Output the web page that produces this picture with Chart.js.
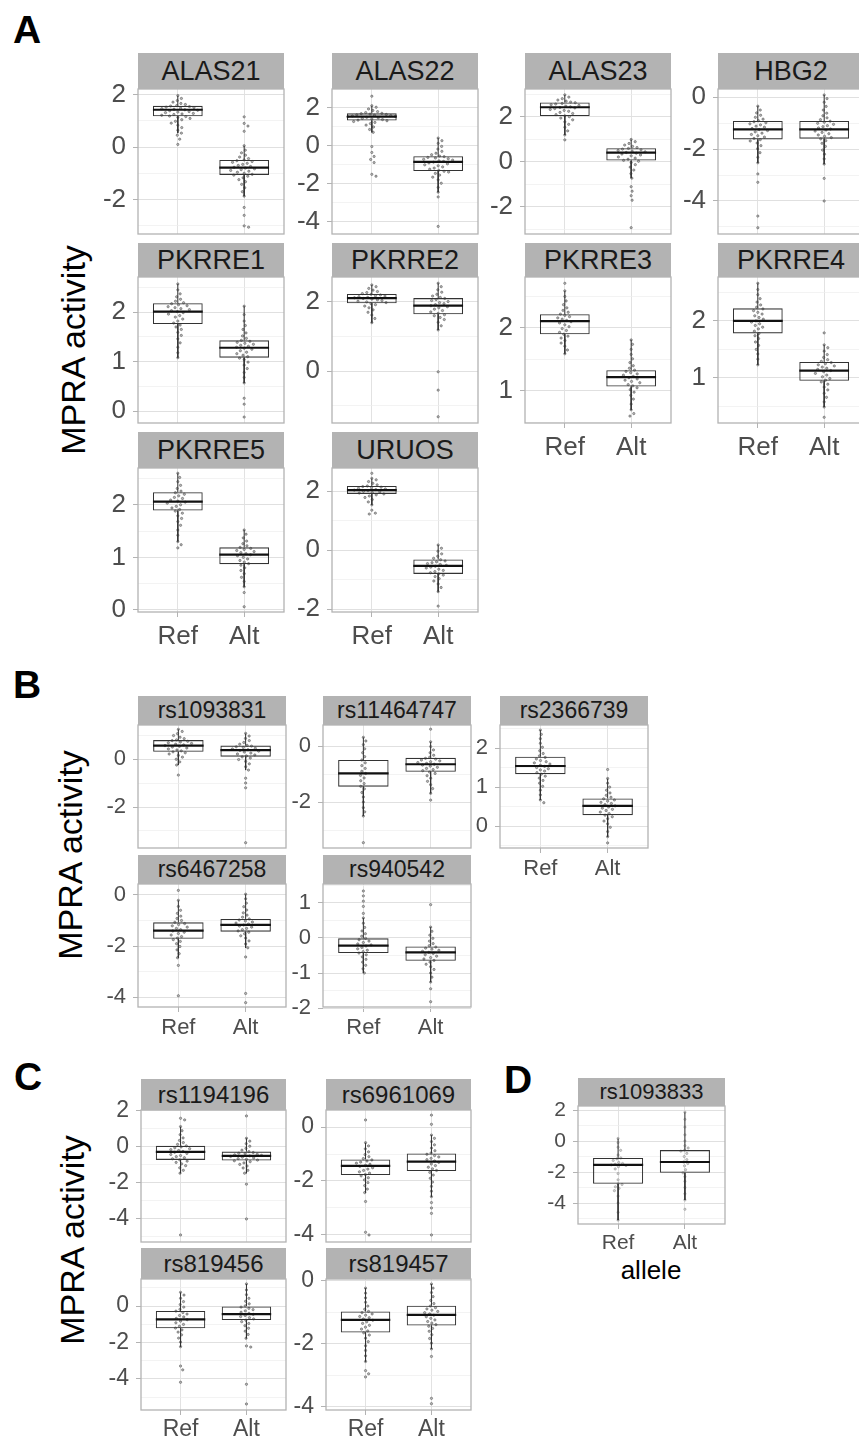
<!DOCTYPE html>
<html><head><meta charset="utf-8">
<script src="https://cdn.jsdelivr.net/npm/chart.js@4.4.1/dist/chart.umd.min.js"></script>
<style>
html,body{margin:0;padding:0;width:859px;height:1439px;overflow:hidden;background:#fff;font-family:"Liberation Sans",Arial,Helvetica,sans-serif;}
.strip{position:absolute;background:#b3b3b3;color:#1a1a1a;display:flex;align-items:center;justify-content:center;white-space:nowrap;}
.letter{position:absolute;font-weight:bold;font-size:39px;line-height:39px;color:#000;}
.ytitle{position:absolute;width:320px;height:40px;line-height:40px;text-align:center;font-size:34px;color:#000;transform:rotate(-90deg);white-space:nowrap;}
.xtitle{position:absolute;width:120px;height:30px;line-height:30px;text-align:center;font-size:26px;color:#000;}
canvas{position:absolute;}
</style></head><body>
<div class="letter" style="left:13px;top:10px">A</div>
<div class="letter" style="left:13px;top:665px">B</div>
<div class="letter" style="left:14px;top:1057px">C</div>
<div class="letter" style="left:504px;top:1060px">D</div>
<div class="ytitle" style="left:-87px;top:330px">MPRA activity</div>
<div class="ytitle" style="left:-90px;top:835px">MPRA activity</div>
<div class="ytitle" style="left:-88px;top:1220px">MPRA activity</div>
<div class="xtitle" style="left:591px;top:1255px">allele</div>
<script>
// ---------------- DATA ----------------
const alleles = ['Ref', 'Alt'];
const facetNames = ['ALAS21','ALAS22','ALAS23','HBG2','PKRRE1','PKRRE2','PKRRE3','PKRRE4','PKRRE5','URUOS',
  'rs1093831','rs11464747','rs2366739','rs6467258','rs940542',
  'rs1194196','rs6961069','rs819456','rs819457','rs1093833'];
const yLimits = [[-3.31,2.21],[-4.65,2.98],[-3.2,3.24],[-5.27,0.31],[-0.24,2.71],[-1.5,2.72],[0.49,2.81],[0.21,2.77],[-0.04,2.70],[-2.1,2.78],
  [-3.71,1.42],[-3.64,0.75],[-0.56,2.59],[-4.39,0.43],[-1.97,1.54],
  [-5.28,2.05],[-4.26,0.63],[-5.7,1.48],[-4.1,0.06],[-5.35,2.26]];
const majorTicks = [[-2,0,2],[-4,-2,0,2],[-2,0,2],[-4,-2,0],[0,1,2],[0,2],[1,2],[1,2],[0,1,2],[-2,0,2],
  [-2,0],[-2,0],[0,1,2],[-4,-2,0],[-2,-1,0,1],
  [-4,-2,0,2],[-4,-2,0],[-4,-2,0],[-4,-2,0],[-4,-2,0,2]];
const minorTicks = [[-3,-1,1],[-3,-1,1],[-3,-1,1,3],[-5,-3,-1],[0.5,1.5,2.5],[-1,1],[0.5,1.5,2.5],[0.5,1.5,2.5],[0.5,1.5,2.5],[-1,1],
  [-3,-1,1],[-3,-1],[-0.5,0.5,1.5,2.5],[-3,-1],[-1.5,-0.5,0.5,1.5],
  [-5,-3,-1,1],[-3,-1],[-5,-3,-1,1],[-3,-1],[-5,-3,-1,1]];
// box stats: [lower whisker, Q1, median, Q3, upper whisker]
const refBox = [[0.53,1.17,1.42,1.57,1.96],[0.70,1.32,1.53,1.70,2.10],[1.20,2.04,2.43,2.64,2.98],[-2.53,-1.63,-1.24,-0.92,-0.35],
  [1.08,1.76,2.01,2.18,2.57],[1.40,1.96,2.11,2.23,2.49],[1.59,1.90,2.11,2.22,2.59],[1.23,1.78,2.00,2.22,2.66],
  [1.30,1.89,2.06,2.24,2.60],[1.53,1.90,2.03,2.17,2.43],
  [-0.25,0.30,0.56,0.79,1.24],[-2.50,-1.45,-0.98,-0.50,0.31],[0.67,1.33,1.54,1.78,2.46],[-2.46,-1.72,-1.40,-1.07,-0.21],[-1.00,-0.43,-0.22,-0.01,0.57],
  [-1.46,-0.72,-0.28,0.06,1.13],[-2.43,-1.78,-1.44,-1.20,-0.58],[-2.23,-1.22,-0.73,-0.27,0.75],[-2.56,-1.64,-1.24,-0.97,-0.23],[-5.10,-2.76,-1.54,-1.09,0.17]];
const altBox = [[-1.87,-1.06,-0.78,-0.49,0.05],[-2.45,-1.34,-0.85,-0.56,0.40],[-0.72,0.06,0.41,0.61,1.00],[-2.58,-1.60,-1.24,-0.92,0.08],
  [0.57,1.08,1.28,1.43,2.12],[1.19,1.64,1.89,2.11,2.54],[0.70,1.07,1.22,1.33,1.81],[0.49,0.95,1.13,1.28,1.58],
  [0.44,0.87,1.05,1.19,1.52],[-1.41,-0.81,-0.54,-0.32,0.17],
  [-0.46,0.10,0.37,0.56,1.07],[-1.69,-0.92,-0.65,-0.42,0.15],[-0.27,0.28,0.52,0.71,1.22],[-2.07,-1.44,-1.17,-0.94,0.03],[-1.26,-0.65,-0.41,-0.24,0.31],
  [-1.46,-0.76,-0.50,-0.26,0.48],[-2.58,-1.63,-1.28,-0.98,-0.30],[-1.77,-0.77,-0.44,0.00,1.21],[-2.16,-1.42,-1.08,-0.79,-0.10],[-3.80,-2.05,-1.35,-0.58,1.86]];

// individual activity values (read approximately from the swarms)
const ALAS21_ref = [0.10,0.30,0.45,0.53,0.64,0.74,0.83,0.91,0.98,1.04,1.09,1.13,1.16,1.18,1.21,1.24,1.26,1.28,1.31,1.33,1.35,1.38,1.40,1.42,1.44,1.46,1.48,1.50,1.52,1.54,1.56,1.58,1.62,1.66,1.71,1.77,1.85,1.96];
const ALAS21_alt = [-3.05,-3.00,-2.60,-2.30,-1.87,-1.70,-1.55,-1.42,-1.32,-1.24,-1.17,-1.11,-1.07,-1.04,-1.00,-0.96,-0.92,-0.89,-0.86,-0.83,-0.80,-0.77,-0.74,-0.70,-0.66,-0.62,-0.58,-0.55,-0.52,-0.49,-0.44,-0.38,-0.31,-0.22,-0.12,0.05,0.60,0.80,0.90,1.15];
const ALAS22_ref = [-1.61,-1.51,-0.89,-0.73,-0.57,-0.36,-0.05,0.70,0.85,0.98,1.08,1.16,1.22,1.27,1.31,1.34,1.37,1.40,1.43,1.46,1.49,1.52,1.54,1.56,1.58,1.60,1.62,1.64,1.66,1.68,1.70,1.74,1.79,1.85,1.93,2.02,2.10,2.60];
const ALAS22_alt = [-4.25,-2.70,-2.45,-2.20,-1.98,-1.80,-1.66,-1.55,-1.46,-1.39,-1.35,-1.30,-1.24,-1.18,-1.12,-1.06,-1.01,-0.96,-0.91,-0.87,-0.83,-0.80,-0.76,-0.72,-0.69,-0.65,-0.62,-0.58,-0.55,-0.48,-0.40,-0.30,-0.18,-0.04,0.12,0.26,0.40];
const ALAS23_ref = [0.98,1.20,1.38,1.54,1.67,1.78,1.87,1.95,2.01,2.05,2.10,2.15,2.20,2.25,2.29,2.33,2.37,2.40,2.42,2.45,2.48,2.51,2.54,2.57,2.60,2.63,2.66,2.70,2.75,2.81,2.88,2.98];
const ALAS23_alt = [-2.92,-1.70,-1.50,-1.30,-1.10,-0.72,-0.52,-0.36,-0.23,-0.12,-0.03,0.03,0.07,0.12,0.17,0.22,0.27,0.31,0.35,0.39,0.42,0.45,0.48,0.51,0.54,0.57,0.60,0.64,0.69,0.75,0.82,0.90,1.00];
const HBG2_ref = [-5.03,-4.58,-3.28,-2.96,-2.53,-2.32,-2.14,-1.99,-1.87,-1.77,-1.69,-1.64,-1.59,-1.54,-1.49,-1.44,-1.39,-1.34,-1.29,-1.25,-1.21,-1.16,-1.12,-1.07,-1.03,-0.99,-0.95,-0.91,-0.85,-0.78,-0.70,-0.61,-0.50,-0.35];
const HBG2_alt = [-4.00,-3.13,-2.58,-2.38,-2.20,-2.04,-1.90,-1.78,-1.68,-1.61,-1.56,-1.51,-1.46,-1.41,-1.36,-1.31,-1.27,-1.23,-1.19,-1.14,-1.10,-1.05,-1.01,-0.97,-0.93,-0.87,-0.80,-0.72,-0.62,-0.50,-0.36,-0.20,-0.06,0.08];
const PKRRE1_ref = [1.08,1.18,1.29,1.38,1.46,1.53,1.59,1.65,1.70,1.74,1.78,1.82,1.86,1.90,1.93,1.96,1.99,2.01,2.03,2.05,2.07,2.09,2.11,2.13,2.15,2.17,2.19,2.22,2.26,2.31,2.37,2.45,2.57];
const PKRRE1_alt = [-0.12,0.14,0.26,0.57,0.68,0.78,0.86,0.93,0.99,1.04,1.07,1.10,1.13,1.16,1.19,1.22,1.25,1.27,1.29,1.31,1.33,1.35,1.37,1.39,1.41,1.43,1.47,1.52,1.58,1.65,1.73,1.82,1.95,2.12];
const PKRRE2_ref = [1.40,1.52,1.62,1.70,1.77,1.83,1.88,1.92,1.95,1.98,2.00,2.02,2.04,2.06,2.08,2.10,2.12,2.13,2.15,2.17,2.18,2.20,2.22,2.24,2.27,2.30,2.34,2.39,2.44,2.49];
const PKRRE2_alt = [-1.32,-0.55,-0.02,1.19,1.31,1.41,1.49,1.55,1.60,1.63,1.67,1.71,1.75,1.79,1.83,1.86,1.89,1.92,1.95,1.98,2.01,2.04,2.07,2.10,2.13,2.17,2.22,2.28,2.35,2.44,2.54];
const PKRRE3_ref = [1.59,1.65,1.71,1.76,1.80,1.84,1.87,1.90,1.93,1.96,1.99,2.02,2.05,2.08,2.10,2.12,2.14,2.16,2.18,2.20,2.22,2.25,2.28,2.32,2.37,2.43,2.50,2.59,2.71];
const PKRRE3_alt = [0.60,0.64,0.70,0.79,0.87,0.93,0.98,1.02,1.05,1.08,1.10,1.13,1.15,1.17,1.19,1.21,1.23,1.25,1.27,1.29,1.31,1.33,1.36,1.40,1.45,1.51,1.58,1.66,1.74,1.81];
const PKRRE4_ref = [1.23,1.33,1.42,1.50,1.57,1.63,1.69,1.74,1.78,1.82,1.86,1.89,1.92,1.95,1.98,2.00,2.03,2.06,2.09,2.12,2.15,2.18,2.21,2.24,2.28,2.33,2.39,2.46,2.55,2.66];
const PKRRE4_alt = [0.31,0.49,0.58,0.66,0.73,0.79,0.84,0.89,0.93,0.96,0.99,1.02,1.05,1.08,1.11,1.13,1.15,1.17,1.19,1.21,1.23,1.25,1.27,1.29,1.32,1.36,1.41,1.47,1.53,1.58,1.79];
const PKRRE5_ref = [1.18,1.24,1.30,1.42,1.52,1.61,1.68,1.74,1.79,1.84,1.88,1.91,1.94,1.97,2.00,2.03,2.05,2.07,2.09,2.12,2.14,2.17,2.20,2.23,2.26,2.31,2.37,2.44,2.52,2.60];
const PKRRE5_alt = [0.06,0.33,0.44,0.54,0.62,0.69,0.75,0.80,0.85,0.88,0.91,0.94,0.97,1.00,1.03,1.05,1.07,1.09,1.11,1.13,1.15,1.17,1.19,1.22,1.26,1.31,1.37,1.44,1.52];
const URUOS_ref = [1.22,1.25,1.35,1.53,1.63,1.71,1.78,1.83,1.87,1.90,1.93,1.95,1.97,1.99,2.01,2.03,2.05,2.07,2.09,2.11,2.13,2.15,2.17,2.21,2.26,2.32,2.38,2.43,2.60];
const URUOS_alt = [-1.90,-1.41,-1.27,-1.15,-1.05,-0.97,-0.90,-0.85,-0.81,-0.77,-0.73,-0.69,-0.65,-0.61,-0.58,-0.55,-0.52,-0.49,-0.46,-0.43,-0.40,-0.37,-0.33,-0.28,-0.21,-0.13,-0.04,0.06,0.17];
const rs1093831_ref = [-0.67,-0.25,-0.12,-0.01,0.08,0.15,0.21,0.26,0.30,0.34,0.38,0.42,0.46,0.50,0.53,0.56,0.59,0.62,0.65,0.68,0.71,0.74,0.77,0.80,0.85,0.91,0.98,1.06,1.15,1.24];
const rs1093831_alt = [-3.49,-1.20,-1.00,-0.80,-0.46,-0.32,-0.20,-0.10,-0.02,0.04,0.09,0.13,0.17,0.21,0.25,0.29,0.33,0.36,0.39,0.42,0.45,0.48,0.51,0.54,0.57,0.62,0.69,0.77,0.86,0.96,1.07];
const rs11464747_ref = [-3.45,-2.50,-2.35,-2.20,-2.00,-1.82,-1.66,-1.53,-1.44,-1.34,-1.24,-1.14,-1.05,-0.98,-0.90,-0.80,-0.70,-0.60,-0.50,-0.38,-0.24,-0.10,0.05,0.18,0.31];
const rs11464747_alt = [-1.93,-1.69,-1.52,-1.38,-1.26,-1.15,-1.06,-0.98,-0.93,-0.88,-0.84,-0.80,-0.76,-0.72,-0.68,-0.65,-0.62,-0.59,-0.56,-0.53,-0.50,-0.47,-0.44,-0.40,-0.33,-0.24,-0.14,-0.02,0.15,0.60];
const rs2366739_ref = [0.60,0.67,0.80,0.92,1.02,1.10,1.17,1.23,1.28,1.33,1.37,1.41,1.44,1.47,1.50,1.53,1.56,1.59,1.62,1.65,1.68,1.72,1.76,1.80,1.86,1.93,2.02,2.12,2.24,2.35,2.46];
const rs2366739_alt = [-0.43,-0.27,-0.14,-0.03,0.06,0.13,0.19,0.24,0.28,0.32,0.36,0.40,0.43,0.46,0.49,0.52,0.55,0.58,0.61,0.64,0.67,0.70,0.74,0.79,0.85,0.92,1.00,1.10,1.22,1.45];
const rs6467258_ref = [-3.95,-2.76,-2.46,-2.30,-2.15,-2.02,-1.91,-1.82,-1.75,-1.69,-1.63,-1.57,-1.51,-1.46,-1.41,-1.36,-1.31,-1.26,-1.21,-1.16,-1.12,-1.07,-1.00,-0.92,-0.83,-0.72,-0.60,-0.45,-0.21,0.18];
const rs6467258_alt = [-4.22,-3.86,-2.43,-2.07,-1.92,-1.80,-1.69,-1.60,-1.52,-1.46,-1.41,-1.36,-1.31,-1.26,-1.22,-1.18,-1.14,-1.10,-1.06,-1.02,-0.98,-0.94,-0.87,-0.79,-0.70,-0.59,-0.46,-0.32,-0.15,0.03];
const rs940542_ref = [-1.00,-0.88,-0.78,-0.69,-0.61,-0.54,-0.48,-0.43,-0.39,-0.35,-0.31,-0.27,-0.23,-0.20,-0.17,-0.13,-0.09,-0.05,-0.01,0.05,0.12,0.20,0.30,0.42,0.57,0.70,0.90,1.05,1.20,1.34];
const rs940542_alt = [-1.82,-1.45,-1.26,-1.12,-1.00,-0.90,-0.82,-0.75,-0.69,-0.64,-0.60,-0.56,-0.52,-0.48,-0.44,-0.41,-0.38,-0.35,-0.32,-0.29,-0.26,-0.22,-0.16,-0.09,-0.01,0.08,0.19,0.31,0.95];
const rs1194196_ref = [-4.89,-1.46,-1.30,-1.16,-1.04,-0.94,-0.86,-0.79,-0.72,-0.66,-0.60,-0.54,-0.48,-0.42,-0.36,-0.30,-0.25,-0.20,-0.15,-0.10,-0.05,0.00,0.06,0.14,0.24,0.36,0.50,0.68,0.90,1.13,1.50,1.59];
const rs1194196_alt = [-4.00,-2.07,-1.46,-1.30,-1.17,-1.06,-0.97,-0.89,-0.82,-0.77,-0.73,-0.69,-0.65,-0.61,-0.57,-0.53,-0.50,-0.47,-0.44,-0.41,-0.38,-0.35,-0.31,-0.26,-0.18,-0.08,0.04,0.18,0.32,0.48,1.72];
const rs6961069_ref = [-4.00,-3.90,-2.76,-2.43,-2.30,-2.17,-2.06,-1.96,-1.88,-1.81,-1.76,-1.71,-1.66,-1.61,-1.56,-1.51,-1.46,-1.42,-1.38,-1.34,-1.30,-1.26,-1.22,-1.17,-1.10,-1.02,-0.92,-0.81,-0.70,-0.58,0.26];
const rs6961069_alt = [-4.00,-3.20,-3.00,-2.80,-2.58,-2.38,-2.20,-2.04,-1.90,-1.78,-1.68,-1.61,-1.55,-1.49,-1.43,-1.37,-1.31,-1.26,-1.21,-1.16,-1.11,-1.06,-1.01,-0.96,-0.88,-0.78,-0.66,-0.54,-0.42,-0.30,0.10,0.44];
const rs819456_ref = [-4.18,-3.50,-3.29,-2.23,-1.98,-1.76,-1.58,-1.43,-1.31,-1.21,-1.11,-1.01,-0.92,-0.83,-0.75,-0.68,-0.60,-0.52,-0.44,-0.36,-0.28,-0.18,-0.06,0.08,0.24,0.42,0.60,0.75];
const rs819456_alt = [-5.37,-4.29,-2.25,-2.19,-1.77,-1.56,-1.38,-1.22,-1.08,-0.96,-0.86,-0.78,-0.71,-0.64,-0.58,-0.52,-0.46,-0.40,-0.34,-0.27,-0.20,-0.13,-0.06,0.01,0.12,0.26,0.42,0.62,0.88,1.21];
const rs819457_ref = [-3.05,-2.95,-2.85,-2.56,-2.38,-2.21,-2.06,-1.93,-1.82,-1.72,-1.65,-1.59,-1.53,-1.47,-1.41,-1.35,-1.30,-1.25,-1.21,-1.17,-1.13,-1.09,-1.05,-1.01,-0.97,-0.90,-0.80,-0.68,-0.54,-0.39,-0.23];
const rs819457_alt = [-3.90,-3.73,-2.40,-2.16,-1.98,-1.83,-1.71,-1.60,-1.51,-1.44,-1.39,-1.34,-1.29,-1.24,-1.19,-1.14,-1.09,-1.05,-1.01,-0.97,-0.93,-0.89,-0.85,-0.80,-0.72,-0.62,-0.50,-0.37,-0.23,-0.10];
const rs1093833_ref = [-5.10,-4.60,-4.00,-3.55,-3.20,-3.05,-2.95,-2.80,-2.76,-2.50,-2.10,-1.80,-1.65,-1.58,-1.54,-1.50,-1.45,-1.38,-1.25,-1.15,-1.09,-0.90,-0.60,-0.40,-0.10,0.17];
const rs1093833_alt = [-4.40,-3.80,-3.40,-3.00,-2.60,-2.30,-2.05,-1.85,-1.60,-1.45,-1.35,-1.20,-1.00,-0.80,-0.65,-0.58,-0.45,-0.30,0.00,0.40,0.90,1.40,1.86];

const refPoints = [ALAS21_ref,ALAS22_ref,ALAS23_ref,HBG2_ref,PKRRE1_ref,PKRRE2_ref,PKRRE3_ref,PKRRE4_ref,PKRRE5_ref,URUOS_ref,
  rs1093831_ref,rs11464747_ref,rs2366739_ref,rs6467258_ref,rs940542_ref,rs1194196_ref,rs6961069_ref,rs819456_ref,rs819457_ref,rs1093833_ref];
const altPoints = [ALAS21_alt,ALAS22_alt,ALAS23_alt,HBG2_alt,PKRRE1_alt,PKRRE2_alt,PKRRE3_alt,PKRRE4_alt,PKRRE5_alt,URUOS_alt,
  rs1093831_alt,rs11464747_alt,rs2366739_alt,rs6467258_alt,rs940542_alt,rs1194196_alt,rs6961069_alt,rs819456_alt,rs819457_alt,rs1093833_alt];

// ---------------- LAYOUT (pixels) ----------------
// [plotLeft, stripTop, plotTop, plotBottom, plotWidth, showX, group]
const layout = [
  [138,53,89,234,146,false,'A'],[332,53,89,234,146,false,'A'],[525,53,89,234,146,false,'A'],[718,53,89,234,146,false,'A'],
  [138,243,277,423,146,false,'A'],[332,243,277,423,146,false,'A'],[525,243,277,423,146,true,'A'],[718,243,277,423,146,true,'A'],
  [138,432,468,612,146,true,'A'],[332,432,468,612,146,true,'A'],
  [138,696,725,848,148,false,'B'],[323,696,725,848,148,false,'B'],[500,696,725,848,148,true,'B'],
  [138,855,884,1007,148,true,'B'],[323,855,884,1007,148,true,'B'],
  [141,1079,1110,1242,145,false,'C'],[326,1079,1110,1242,145,false,'C'],
  [141,1248,1279,1410,145,true,'C'],[326,1248,1279,1410,145,true,'C'],
  [578,1078,1106,1224,147,true,'D']
];
const groupStyle = {
  A:{axis:26, strip:27, yw:80, xgap:25, ptFill:'#b5b5b5', ptEdge:'#444', sw:4.6},
  B:{axis:22, strip:23, yw:70, xgap:21, ptFill:'#b5b5b5', ptEdge:'#444', sw:4.4},
  C:{axis:23, strip:24, yw:70, xgap:20, ptFill:'#b5b5b5', ptEdge:'#444', sw:4.4},
  D:{axis:21, strip:22, yw:60, xgap:19, ptFill:'#cfcfcf', ptEdge:'#888', sw:4.0}
};
const PADT = 20, PADB = 20;

Chart.defaults.font.family = '"Liberation Sans", Arial, Helvetica, sans-serif';

function swarm(ys, d) {
  const idx = ys.map((y, i) => i).sort((a, b) => ys[a] - ys[b]);
  const placed = [], xs = new Array(ys.length);
  for (const i of idx) {
    const y = ys[i];
    const near = placed.filter(p => Math.abs(p.y - y) < d);
    const cands = [0];
    near.forEach(p => { const dx = Math.sqrt(d * d - (p.y - y) ** 2); cands.push(p.x + dx, p.x - dx); });
    cands.sort((a, b) => Math.abs(a) - Math.abs(b));
    let x = 0;
    for (const c of cands) {
      if (near.every(p => (p.x - c) ** 2 + (p.y - y) ** 2 >= d * d - 1e-6)) { x = c; break; }
    }
    placed.push({x, y}); xs[i] = x;
  }
  return xs;
}

const borderPlugin = {
  id: 'panelBorder',
  afterDatasetsDraw(chart) {
    const a = chart.chartArea, ctx = chart.ctx;
    ctx.save(); ctx.strokeStyle = '#b3b3b3'; ctx.lineWidth = 1.3;
    ctx.strokeRect(a.left, a.top, a.right - a.left, a.bottom - a.top);
    ctx.restore();
  }
};
const noPad = sc => { sc.paddingTop = 0; sc.paddingBottom = 0; sc.paddingLeft = 0; sc.paddingRight = 0; };

const HALF = 0.375;
facetNames.forEach((name, k) => {
  const [L, sTop, pTop, pBot, pW, showX, g] = layout[k];
  const st = groupStyle[g];
  const pH = pBot - pTop;
  const [ymin, ymax] = yLimits[k];
  const majors = majorTicks[k], minors = minorTicks[k];

  // strip
  const s = document.createElement('div');
  s.className = 'strip';
  s.style.cssText = `left:${L}px;top:${sTop}px;width:${pW}px;height:${pTop - sTop}px;font-size:${st.strip}px;`;
  s.textContent = name;
  document.body.appendChild(s);

  // canvas
  const xh = showX ? 45 : 0;
  const cv = document.createElement('canvas');
  const cw = st.yw + pW + 2, ch = PADT + pH + xh + PADB;
  cv.width = cw; cv.height = ch;
  cv.style.cssText = `left:${L - st.yw}px;top:${pTop - PADT}px;width:${cw}px;height:${ch}px;`;
  document.body.appendChild(cv);

  // beeswarm offsets (layout only)
  const pxPerY = pH / (ymax - ymin), pxPerX = pW / 2.2;
  const mkPts = (vals, c) => {
    const xs = swarm(vals.map(v => (ymax - v) * pxPerY), st.sw);
    return vals.map((v, i) => ({x: c + xs[i] / pxPerX, y: v}));
  };
  const boxes = [refBox[k], altBox[k]];
  const bars = boxes.map((b, i) => ({x: i + 1, y: [b[1], b[3]]}));
  const med = [], whisk = [];
  boxes.forEach((b, i) => {
    const c = i + 1;
    med.push({x: c - HALF, y: b[2]}, {x: c + HALF, y: b[2]}, {x: c + 0.5, y: null});
    whisk.push({x: c, y: b[3]}, {x: c, y: b[4]}, {x: c, y: null}, {x: c, y: b[1]}, {x: c, y: b[0]}, {x: c, y: null});
  });
  const ptStyle = {type: 'scatter', pointRadius: 1.15, pointBackgroundColor: st.ptFill, pointBorderColor: st.ptEdge, pointBorderWidth: 0.5, order: 4};
  const isMajor = v => majors.some(m => Math.abs(m - v) < 1e-9);
  const xpad = Math.max(0, st.xgap - 5 - 0.6 * st.axis);

  new Chart(cv, {
    type: 'scatter',
    data: {
      datasets: [
        Object.assign({label: alleles[0], data: mkPts(refPoints[k], 1)}, ptStyle),
        Object.assign({label: alleles[1], data: mkPts(altPoints[k], 2)}, ptStyle),
        {type: 'line', data: whisk, borderColor: '#333', borderWidth: 1, pointRadius: 0, spanGaps: false, fill: false, order: 3},
        {type: 'bar', data: bars, backgroundColor: 'rgba(0,0,0,0)', borderColor: '#333', borderWidth: 1.1, borderSkipped: false,
         barPercentage: 0.75, categoryPercentage: 1, grouped: false, order: 2},
        {type: 'line', data: med, borderColor: '#111', borderWidth: 2.2, pointRadius: 0, spanGaps: false, fill: false, order: 1}
      ]
    },
    options: {
      responsive: false, animation: false, events: [],
      layout: {padding: {top: PADT, right: 2, bottom: PADB, left: 0}, autoPadding: false},
      plugins: {legend: {display: false}, tooltip: {enabled: false}},
      scales: {
        x: {
          type: 'linear', min: 0.4, max: 2.6, offset: false,
          afterBuildTicks: sc => { sc.ticks = [{value: 1}, {value: 2}]; },
          afterFit: sc => { sc.height = xh; noPad(sc); },
          ticks: {display: showX, callback: v => alleles[Math.round(v) - 1], font: {size: st.axis}, color: '#4d4d4d', padding: xpad, maxRotation: 0, autoSkip: false},
          grid: {offset: false, color: '#e2e2e2', lineWidth: 1, drawTicks: showX, tickLength: 5, tickColor: '#b3b3b3', tickWidth: 1},
          border: {display: false}
        },
        y: {
          type: 'linear', min: ymin, max: ymax, offset: false,
          afterBuildTicks: sc => { sc.ticks = majors.concat(minors).sort((a, b) => a - b).map(v => ({value: v})); },
          afterFit: sc => { sc.width = st.yw; noPad(sc); },
          ticks: {callback: v => isMajor(v) ? String(v) : '', font: {size: st.axis}, color: '#4d4d4d', padding: 7, autoSkip: false},
          grid: {
            color: ctx => isMajor(ctx.tick.value) ? '#e0e0e0' : '#eeeeee',
            lineWidth: ctx => isMajor(ctx.tick.value) ? 1 : 0.7,
            tickColor: ctx => isMajor(ctx.tick.value) ? '#b3b3b3' : 'rgba(0,0,0,0)',
            tickLength: 5, tickWidth: 1
          },
          border: {display: false}
        }
      }
    },
    plugins: [borderPlugin]
  });
});
</script>
</body></html>
